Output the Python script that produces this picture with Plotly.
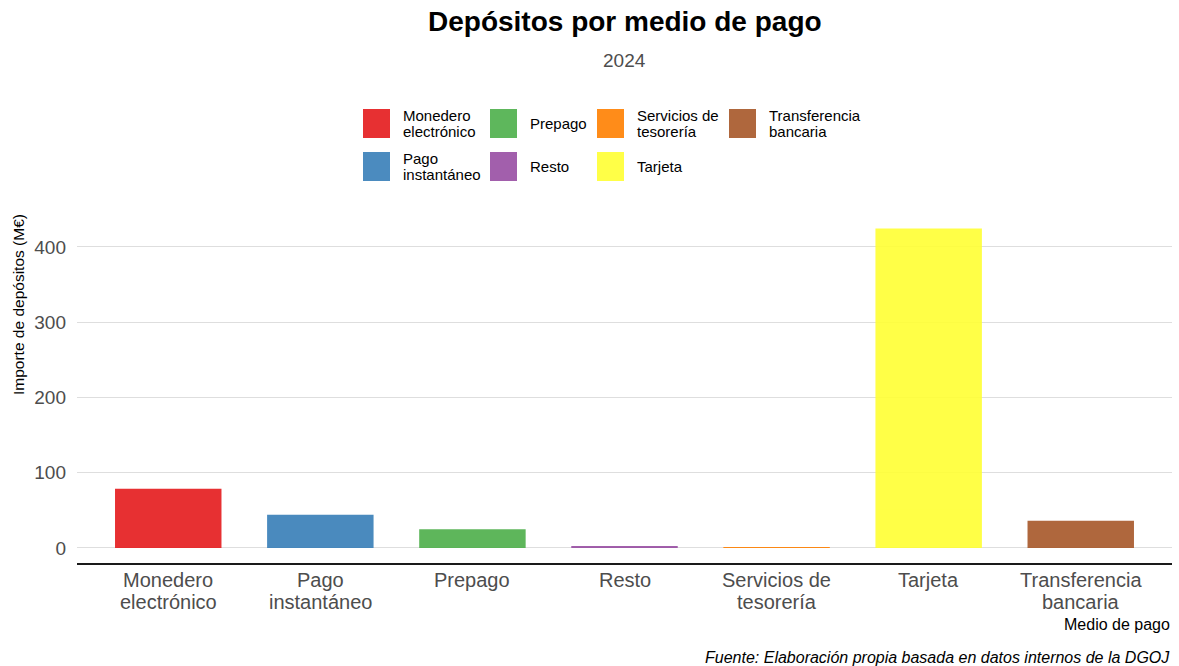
import plotly.graph_objects as go

# ---- data ----
categories = ["Monedero electrónico", "Pago instantáneo", "Prepago", "Resto",
              "Servicios de tesorería", "Tarjeta", "Transferencia bancaria"]
tick_labels = [["Monedero", "electrónico"], ["Pago", "instantáneo"], ["Prepago"], ["Resto"],
               ["Servicios de", "tesorería"], ["Tarjeta"], ["Transferencia", "bancaria"]]
values = [78.5, 44.0, 25.0, 2.5, 0.4, 424.5, 36.0]
colors = ["#E41A1C", "#377EB8", "#4DAF4A", "#984EA3", "#FF7F00", "#FFFF33", "#A65628"]
y_ticks = [0, 100, 200, 300, 400]

W, H = 1179, 666
L, R, T, B = 77, 7, 213, 103
PW, PH = W - L - R, H - T - B

def px_x(px):
    return (px - L) / PW

def px_y(py):
    return (H - B - py) / PH

FONT = "Liberation Sans, Arial, sans-serif"

fig = go.Figure()
fig.add_trace(go.Bar(
    x=categories, y=values, marker=dict(color=colors, line=dict(width=0)),
    opacity=0.9, width=0.7, showlegend=False, hoverinfo="x+y"))

shapes = []
annotations = []

# ---- category labels, one line each, anchored on the category axis ----
for cat, lines in zip(categories, tick_labels):
    for i, line in enumerate(lines):
        annotations.append(dict(xref="x", yref="paper", x=cat, y=px_y(580 + 22 * i),
                                xanchor="center", yanchor="middle", text=line,
                                showarrow=False,
                                font=dict(size=20, color="#4D4D4D", family=FONT)))

# ---- manual legend (column-major order, 4 columns x 2 rows) ----
legend_layout = [
    (0, ["Monedero", "electrónico"], 363, 123.5),
    (1, ["Pago", "instantáneo"], 363, 166.5),
    (2, ["Prepago"], 490, 123.5),
    (3, ["Resto"], 490, 166.5),
    (4, ["Servicios de", "tesorería"], 597, 123.5),
    (5, ["Tarjeta"], 597, 166.5),
    (6, ["Transferencia", "bancaria"], 729, 123.5),
]
for idx, lines, kx, ky in legend_layout:
    shapes.append(dict(type="rect", xref="paper", yref="paper",
                       x0=px_x(kx), x1=px_x(kx + 27),
                       y0=px_y(ky + 14.5), y1=px_y(ky - 14.5),
                       fillcolor=colors[idx], opacity=0.9, line=dict(width=0)))
    n = len(lines)
    for i, line in enumerate(lines):
        cy = ky + (i - (n - 1) / 2) * 16
        annotations.append(dict(xref="paper", yref="paper", x=px_x(kx + 38), y=px_y(cy),
                                xanchor="left", yanchor="middle", align="left",
                                text=line, showarrow=False,
                                font=dict(size=15, color="black", family=FONT)))

# titles
annotations += [
    dict(xref="paper", yref="paper", x=px_x(624.5), y=px_y(22), xanchor="center",
         yanchor="middle", text="<b>Depósitos por medio de pago</b>", showarrow=False,
         font=dict(size=28, color="black", family=FONT)),
    dict(xref="paper", yref="paper", x=px_x(624.5), y=px_y(61), xanchor="center",
         yanchor="middle", text="2024", showarrow=False,
         font=dict(size=19, color="#4D4D4D", family=FONT)),
    dict(xref="paper", yref="paper", x=px_x(18), y=px_y(305), xanchor="center",
         yanchor="middle", text="Importe de depósitos (M€)", textangle=-90, showarrow=False,
         font=dict(size=15.5, color="black", family=FONT)),
    dict(xref="paper", yref="paper", x=1.0, y=px_y(624), xanchor="right",
         yanchor="middle", text="Medio de pago", showarrow=False,
         font=dict(size=16, color="black", family=FONT)),
    dict(xref="paper", yref="paper", x=1.0, y=px_y(657), xanchor="right",
         yanchor="middle", text="<i>Fuente: Elaboración propia basada en datos internos de la DGOJ</i>",
         showarrow=False, font=dict(size=16, color="black", family=FONT)),
]

fig.update_layout(
    width=W, height=H, autosize=False,
    margin=dict(l=L, r=R, t=T, b=B, pad=0),
    paper_bgcolor="white", plot_bgcolor="white",
    font=dict(family=FONT),
    showlegend=False,
    shapes=shapes, annotations=annotations,
    xaxis=dict(type="category", categoryorder="array", categoryarray=categories,
               range=[-0.6, 6.6], showgrid=False, zeroline=False,
               showline=True, linecolor="#1A1A1A", linewidth=2, ticks="",
               showticklabels=False),
    yaxis=dict(range=[-20, 445], tickvals=y_ticks, showgrid=True, gridcolor="#DEDEDE",
               gridwidth=1, zeroline=False, showline=False, ticks="",
               ticklabelstandoff=10,
               tickfont=dict(size=19, color="#4D4D4D", family=FONT)),
)

fig.write_html("out.html", config={"displayModeBar": False},
               post_script="document.body.style.margin='0px';document.body.style.overflow='hidden';")
